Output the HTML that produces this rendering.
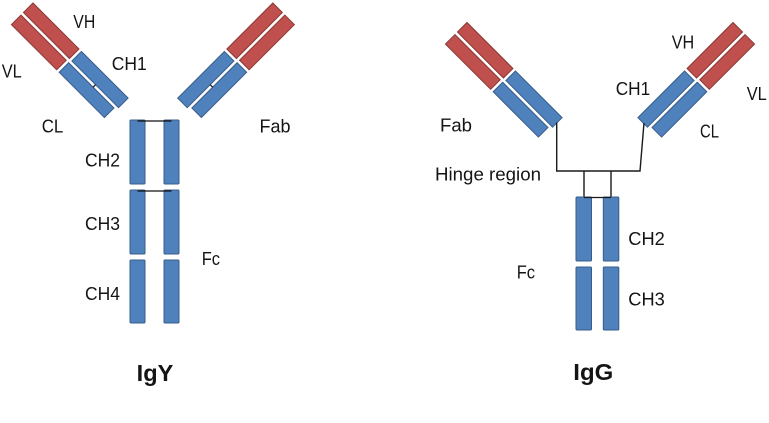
<!DOCTYPE html>
<html>
<head>
<meta charset="utf-8">
<style>
  html, body { margin: 0; padding: 0; background: #ffffff; }
  svg { display: block; }
  text { font-family: "Liberation Sans", Arial, sans-serif; fill: #141414; }
</style>
</head>
<body>
<svg width="769" height="423" viewBox="0 0 769 423" xmlns="http://www.w3.org/2000/svg">
  <defs>
    <g id="arm">
      <rect x="0" y="0" width="65" height="13.5" fill="#c0504d" stroke="#8c3836" stroke-width="1"/>
      <rect x="0" y="17" width="64" height="13.5" fill="#c0504d" stroke="#8c3836" stroke-width="1"/>
      <rect x="68.5" y="0" width="66" height="13.5" fill="#4f81bd" stroke="#385d8a" stroke-width="1"/>
      <rect x="67.5" y="17" width="64" height="13.5" fill="#4f81bd" stroke="#385d8a" stroke-width="1"/>
    </g>
    <g id="armY">
      <use href="#arm"/>
      <line x1="102" y1="13.5" x2="102" y2="17" stroke="#111" stroke-width="1.2"/>
    </g>
  </defs>

  <!-- ================= IgY ================= -->
  <g transform="translate(33,3) rotate(45)"><use href="#armY"/></g>
  <g transform="translate(272.8,3) scale(-1,1) rotate(45)"><use href="#armY"/></g>

  <!-- Fc columns -->
  <g fill="#4f81bd" stroke="#385d8a" stroke-width="1">
    <rect x="130" y="120" width="15" height="64" rx="1"/>
    <rect x="164" y="120" width="15" height="64" rx="1"/>
    <rect x="130" y="190" width="15" height="64" rx="1"/>
    <rect x="164" y="190" width="15" height="64" rx="1"/>
    <rect x="130" y="260" width="15" height="63" rx="1"/>
    <rect x="164" y="260" width="15" height="63" rx="1"/>
  </g>
  <line x1="137.5" y1="121" x2="171.5" y2="121" stroke="#111" stroke-width="1.3"/>
  <line x1="137.5" y1="191" x2="171.5" y2="191" stroke="#111" stroke-width="1.3"/>

  <!-- IgY labels -->
  <text x="73.3" y="28" font-size="18" textLength="22" lengthAdjust="spacingAndGlyphs">VH</text>
  <text x="1.7" y="77.5" font-size="18" textLength="20" lengthAdjust="spacingAndGlyphs">VL</text>
  <text x="111.7" y="70" font-size="18" textLength="35" lengthAdjust="spacingAndGlyphs">CH1</text>
  <text x="41.7" y="132.7" font-size="18" textLength="21.6" lengthAdjust="spacingAndGlyphs">CL</text>
  <text x="259.5" y="132.7" font-size="18" textLength="31" lengthAdjust="spacingAndGlyphs">Fab</text>
  <text x="85" y="166.7" font-size="18" textLength="35" lengthAdjust="spacingAndGlyphs">CH2</text>
  <text x="85" y="230" font-size="18" textLength="35" lengthAdjust="spacingAndGlyphs">CH3</text>
  <text x="85" y="300" font-size="18" textLength="35" lengthAdjust="spacingAndGlyphs">CH4</text>
  <text x="201.7" y="265" font-size="18" textLength="18.3" lengthAdjust="spacingAndGlyphs">Fc</text>
  <text x="136.7" y="381" font-size="23" font-weight="bold" textLength="36.6" lengthAdjust="spacingAndGlyphs">IgY</text>

  <!-- ================= IgG ================= -->
  <g transform="translate(467,22.5) rotate(45)"><use href="#arm"/></g>
  <g transform="translate(733,22.5) scale(-1,1) rotate(45)"><use href="#arm"/></g>

  <!-- hinge -->
  <g stroke="#1a1a1a" stroke-width="1.4" fill="none">
    <polyline points="556.7,122.5 556.7,171 640,171 644,123"/>
    <line x1="584" y1="171" x2="584" y2="198"/>
    <line x1="611" y1="171" x2="611" y2="198"/>
  </g>

  <!-- Fc columns -->
  <g fill="#4f81bd" stroke="#385d8a" stroke-width="1">
    <rect x="576" y="197" width="15.5" height="64" rx="1"/>
    <rect x="603.3" y="197" width="15.5" height="64" rx="1"/>
    <rect x="576" y="267" width="15.5" height="63" rx="1"/>
    <rect x="603.3" y="267" width="15.5" height="63" rx="1"/>
  </g>
  <line x1="584" y1="197.5" x2="611" y2="197.5" stroke="#1a1a1a" stroke-width="1.3"/>

  <!-- IgG labels -->
  <text x="440" y="131.7" font-size="18" textLength="32" lengthAdjust="spacingAndGlyphs">Fab</text>
  <text x="435" y="180.5" font-size="18" textLength="106" lengthAdjust="spacingAndGlyphs">Hinge region</text>
  <text x="671.7" y="48.3" font-size="18" textLength="22.5" lengthAdjust="spacingAndGlyphs">VH</text>
  <text x="615.7" y="95" font-size="18" textLength="34.5" lengthAdjust="spacingAndGlyphs">CH1</text>
  <text x="746.7" y="100" font-size="18" textLength="20" lengthAdjust="spacingAndGlyphs">VL</text>
  <text x="700" y="137.3" font-size="18" textLength="19" lengthAdjust="spacingAndGlyphs">CL</text>
  <text x="628.3" y="245" font-size="18" textLength="36.5" lengthAdjust="spacingAndGlyphs">CH2</text>
  <text x="628.3" y="305.7" font-size="18" textLength="36.5" lengthAdjust="spacingAndGlyphs">CH3</text>
  <text x="516.7" y="278.3" font-size="18" textLength="18.3" lengthAdjust="spacingAndGlyphs">Fc</text>
  <text x="573.3" y="380" font-size="23" font-weight="bold" textLength="40" lengthAdjust="spacingAndGlyphs">IgG</text>
</svg>
</body>
</html>
